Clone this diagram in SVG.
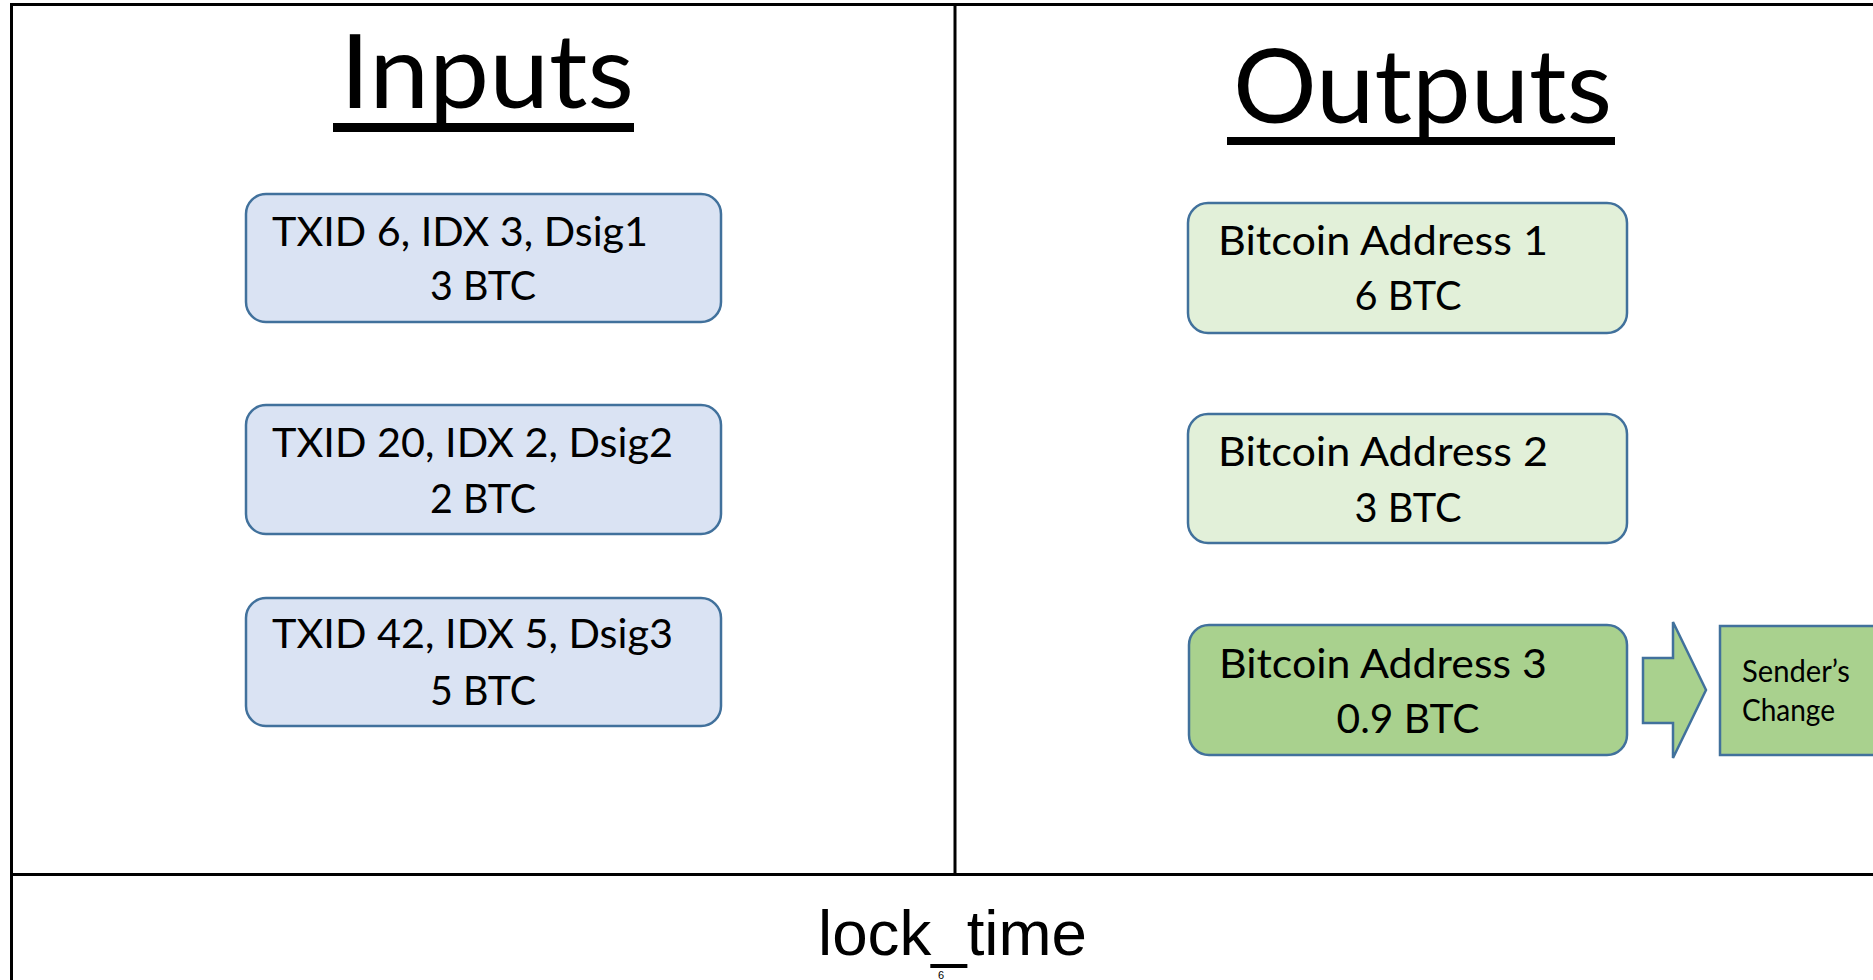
<svg xmlns="http://www.w3.org/2000/svg" width="1873" height="980" viewBox="0 0 1873 980">
<style>
  .frame { stroke: #000; stroke-width: 3; fill: none; }
  .box { stroke: #41719c; stroke-width: 2.5; }
  .in { fill: #dae3f3; }
  .outl { fill: #e2f0d9; }
  .outd { fill: #a9d18e; }
  .t { font-family: Lato, "Open Sans", "Liberation Sans", sans-serif; fill: #000; }
  .title { font-size: 103px; }
  .lbl { font-size: 41px; }
  .small { font-size: 30px; }
  .lt { font-family: "Liberation Sans", Arial, sans-serif; fill: #000; }
</style>
<rect width="1873" height="980" fill="#fff"/>
<g id="frame">
  <line class="frame" x1="11.5" y1="4.5" x2="1873" y2="4.5"/>
  <line class="frame" x1="11.5" y1="3" x2="11.5" y2="980"/>
  <line class="frame" x1="955" y1="4.5" x2="955" y2="874.5"/>
  <line class="frame" x1="11.5" y1="874.5" x2="1873" y2="874.5" stroke-width="3.5"/>
</g>
<g id="title-inputs">
  <text class="t title" x="340" y="108" textLength="294" lengthAdjust="spacingAndGlyphs">Inputs</text>
  <rect x="333" y="123" width="301" height="9" fill="#000"/>
</g>
<g id="title-outputs">
  <text class="t title" x="1233" y="123" textLength="379" lengthAdjust="spacingAndGlyphs">Outputs</text>
  <rect x="1227" y="137" width="388" height="8" fill="#000"/>
</g>
<g id="input1">
  <rect class="box in" x="246" y="194" width="475" height="128" rx="20"/>
  <text class="t lbl" x="272" y="246" textLength="376" lengthAdjust="spacingAndGlyphs">TXID 6, IDX 3, Dsig1</text>
  <text class="t lbl" x="483" y="300" text-anchor="middle" textLength="106" lengthAdjust="spacingAndGlyphs">3 BTC</text>
</g>
<g id="input2">
  <rect class="box in" x="246" y="405" width="475" height="129" rx="20"/>
  <text class="t lbl" x="272" y="457" textLength="401" lengthAdjust="spacingAndGlyphs">TXID 20, IDX 2, Dsig2</text>
  <text class="t lbl" x="483" y="513" text-anchor="middle" textLength="106" lengthAdjust="spacingAndGlyphs">2 BTC</text>
</g>
<g id="input3">
  <rect class="box in" x="246" y="598" width="475" height="128" rx="20"/>
  <text class="t lbl" x="272" y="648" textLength="401" lengthAdjust="spacingAndGlyphs">TXID 42, IDX 5, Dsig3</text>
  <text class="t lbl" x="483" y="705" text-anchor="middle" textLength="106" lengthAdjust="spacingAndGlyphs">5 BTC</text>
</g>
<g id="output1">
  <rect class="box outl" x="1188" y="203" width="439" height="130" rx="20"/>
  <text class="t lbl" x="1218" y="255" textLength="330" lengthAdjust="spacingAndGlyphs">Bitcoin Address 1</text>
  <text class="t lbl" x="1408" y="310" text-anchor="middle" textLength="107" lengthAdjust="spacingAndGlyphs">6 BTC</text>
</g>
<g id="output2">
  <rect class="box outl" x="1188" y="414" width="439" height="129" rx="20"/>
  <text class="t lbl" x="1218" y="466" textLength="330" lengthAdjust="spacingAndGlyphs">Bitcoin Address 2</text>
  <text class="t lbl" x="1408" y="522" text-anchor="middle" textLength="107" lengthAdjust="spacingAndGlyphs">3 BTC</text>
</g>
<g id="output3">
  <rect class="box outd" x="1189" y="625" width="438" height="130" rx="20"/>
  <text class="t lbl" x="1219" y="678" textLength="328" lengthAdjust="spacingAndGlyphs">Bitcoin Address 3</text>
  <text class="t lbl" x="1408" y="733" text-anchor="middle" textLength="143" lengthAdjust="spacingAndGlyphs">0.9 BTC</text>
</g>
<g id="connectors">
  <polygon class="box outd" stroke-width="2" points="1643,658 1673,658 1673,622 1706,690 1673,758 1673,723 1643,723"/>
</g>
<g id="senders-change">
  <rect class="box outd" x="1720" y="626" width="200" height="129"/>
  <text class="t small" x="1742" y="682" textLength="108" lengthAdjust="spacingAndGlyphs">Sender’s</text>
  <text class="t small" x="1742" y="721" textLength="93" lengthAdjust="spacingAndGlyphs">Change</text>
</g>
<g id="locktime">
  <text class="lt" x="818" y="955" font-size="63" textLength="269" lengthAdjust="spacingAndGlyphs">lock_time</text>
  <text class="lt" x="941" y="979" font-size="11" text-anchor="middle">6</text>
</g>
</svg>
